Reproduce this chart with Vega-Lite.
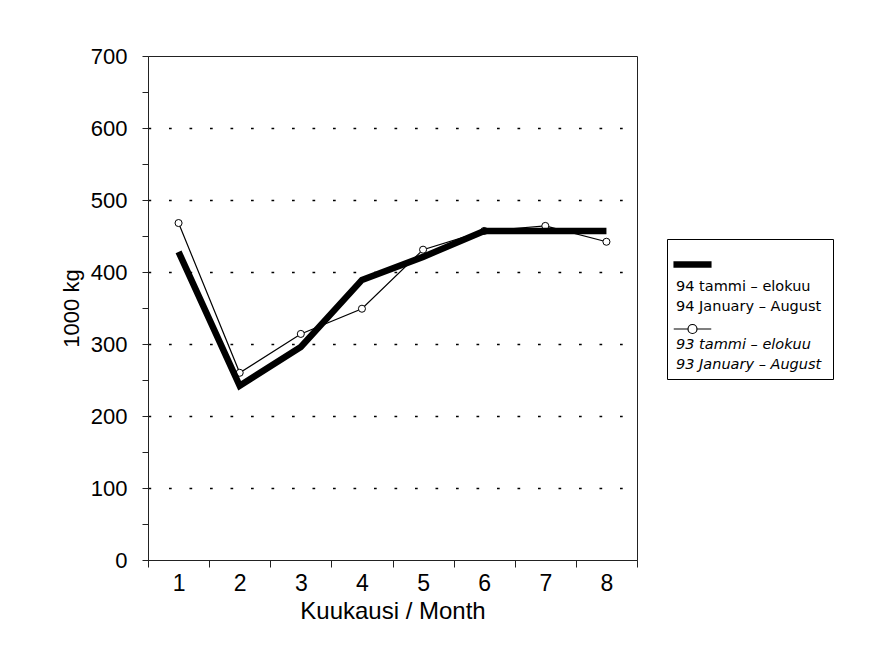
{
  "$schema": "https://vega.github.io/schema/vega-lite/v6.json",
  "autosize": {"type": "none"},
  "padding": {"left": 148, "top": 56, "right": 233, "bottom": 106},
  "width": 489,
  "height": 504,
  "background": "white",
  "config": {
    "view": {"stroke": "#222", "strokeWidth": 1},
    "font": "Liberation Sans",
    "axis": {"labelFont": "Liberation Sans", "titleFont": "Liberation Sans", "labelColor": "black", "titleColor": "black", "titleFontWeight": "normal", "domainColor": "#222", "tickColor": "#222"}
  },
  "data": {"values": [
    {"month": "1", "series": "94", "value": 428},
    {"month": "2", "series": "94", "value": 242},
    {"month": "3", "series": "94", "value": 296},
    {"month": "4", "series": "94", "value": 389},
    {"month": "5", "series": "94", "value": 421},
    {"month": "6", "series": "94", "value": 457},
    {"month": "7", "series": "94", "value": 457},
    {"month": "8", "series": "94", "value": 457},
    {"month": "1", "series": "93", "value": 468},
    {"month": "2", "series": "93", "value": 260},
    {"month": "3", "series": "93", "value": 314},
    {"month": "4", "series": "93", "value": 349},
    {"month": "5", "series": "93", "value": 431},
    {"month": "6", "series": "93", "value": 457},
    {"month": "7", "series": "93", "value": 464},
    {"month": "8", "series": "93", "value": 442}
  ]},
  "encoding": {
    "x": {
      "field": "month", "type": "ordinal",
      "scale": {"type": "band", "paddingInner": 0, "paddingOuter": 0},
      "axis": {
        "title": "Kuukausi / Month", "titleFontSize": 24, "titlePadding": 4,
        "labelFontSize": 23, "labelAngle": 0, "labelPadding": 5,
        "tickBand": "extent", "tickSize": 7, "grid": false,
        "encode": {"ticks": {"update": {"y": {"value": -7}, "y2": {"value": 7}}}}
      }
    },
    "y": {
      "field": "value", "type": "quantitative",
      "scale": {"domain": [0, 700], "nice": false},
      "axis": {
        "title": "1000 kg", "titleFontSize": 22, "titlePadding": 7,
        "labelFontSize": 22, "labelPadding": 15, "tickSize": 6,
        "values": [0, 50, 100, 150, 200, 250, 300, 350, 400, 450, 500, 550, 600, 650, 700],
        "labelExpr": "datum.value % 100 === 0 ? datum.label : ''",
        "labelOverlap": false,
        "grid": true, "gridColor": "black", "gridWidth": 1.6, "gridDash": [2.7, 17.8],
        "gridOpacity": {"condition": {"test": "datum.value % 100 === 0 && datum.value > 0 && datum.value < 700", "value": 1}, "value": 0},
        "encode": {
          "ticks": {"update": {
            "x": {"signal": "datum.value % 100 === 0 ? 6 : 3"},
            "x2": {"signal": "datum.value % 100 === 0 ? -6 : -3"}
          }}
        }
      }
    }
  },
  "layer": [
    {
      "transform": [{"filter": "datum.series == '93'"}],
      "mark": {"type": "line", "color": "black", "strokeCap": "butt", "strokeJoin": "miter"},
      "encoding": {
        "strokeWidth": {
          "field": "series", "type": "nominal",
          "scale": {"domain": ["94", "93"], "range": [6.5, 1.2]},
          "legend": {
            "orient": "none", "legendX": 519, "legendY": 183,
            "title": null,
            "strokeColor": "black", "fillColor": "white", "padding": 7,
            "symbolType": "stroke", "symbolSize": 900, "symbolStrokeColor": "black",
            "labelFont": "DejaVu Sans", "labelFontSize": 14.5, "labelLimit": 0, "labelColor": "black",
            "rowPadding": -11,
            "labelExpr": "datum.value == '94' ? ['94 tammi – elokuu', '94 January –  August'] : ['93 tammi – elokuu', '93 January – August']",
            "encode": {
              "symbols": {"update": {
                "shape": {"signal": "datum.value == '94' ? 'M-1.27,0H1.27' : 'M-1.25,0H-0.3M0.3,0H1.25M-0.3,0A0.3,0.3,0,1,0,0.3,0A0.3,0.3,0,1,0,-0.3,0'"},
                "strokeWidth": {"signal": "datum.value == '94' ? 5 : 1"},
                "fill": {"value": "transparent"}
              }},
              "labels": {"update": {
                "dx": {"value": -39},
                "dy": {"signal": "datum.value == '94' ? 15 : 9"},
                "baseline": {"value": "top"},
                "lineHeight": {"value": 20},
                "fontStyle": {"signal": "datum.value == '94' ? 'normal' : 'italic'"}
              }}
            }
          }
        }
      }
    },
    {
      "transform": [{"filter": "datum.series == '93'"}],
      "mark": {"type": "point", "shape": "circle", "filled": false, "fill": "white", "stroke": "black", "strokeWidth": 1, "size": 50, "opacity": 1}
    },
    {
      "transform": [{"filter": "datum.series == '94'"}],
      "mark": {"type": "line", "color": "black", "strokeCap": "butt", "strokeJoin": "miter"},
      "encoding": {
        "strokeWidth": {"field": "series", "type": "nominal"}
      }
    }
  ]
}
